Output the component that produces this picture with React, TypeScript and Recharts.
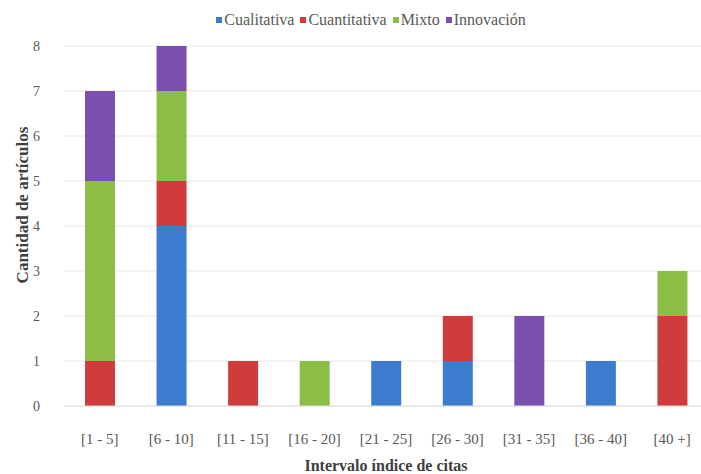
import { Bar, BarChart, CartesianGrid, Legend, XAxis, YAxis } from "recharts";

const intervals = ["[1 - 5]", "[6 - 10]", "[11 - 15]", "[16 - 20]", "[21 - 25]", "[26 - 30]", "[31 - 35]", "[36 - 40]", "[40 +]"];
const cualitativa = [0, 4, 0, 0, 1, 1, 0, 1, 0];
const cuantitativa = [1, 1, 1, 0, 0, 1, 0, 0, 2];
const mixto = [4, 2, 0, 1, 0, 0, 0, 0, 1];
const innovacion = [2, 1, 0, 0, 0, 0, 2, 0, 0];
const yTicks = [0, 1, 2, 3, 4, 5, 6, 7, 8];

const series = [
  { key: "cualitativa", name: "Cualitativa", color: "#3d7bcf" },
  { key: "cuantitativa", name: "Cuantitativa", color: "#d03b3e" },
  { key: "mixto", name: "Mixto", color: "#8cbd47" },
  { key: "innovacion", name: "Innovación", color: "#7a4fb0" },
];

const data = intervals.map((name, i) => ({
  name,
  cualitativa: cualitativa[i],
  cuantitativa: cuantitativa[i],
  mixto: mixto[i],
  innovacion: innovacion[i],
}));

const font = "'Liberation Serif', 'Times New Roman', serif";
const grey = "#595959";

function LegendRow() {
  return (
    <div style={{ display: "flex", justifyContent: "center", fontFamily: font, fontSize: 16, lineHeight: "18px", color: grey }}>
      {series.map((s) => (
        <span key={s.key} style={{ display: "flex", alignItems: "center", marginRight: 6, fontFamily: font }}>
          <span style={{ width: 6, height: 6, background: s.color, display: "inline-block", marginRight: 2 }} />
          {s.name}
        </span>
      ))}
    </div>
  );
}

function YLabel(props: any) {
  const { viewBox } = props;
  const x = viewBox.x + 22;
  const y = viewBox.y + viewBox.height / 2 - 21;
  return (
    <text x={x} y={y} transform={`rotate(-90, ${x}, ${y})`} textAnchor="middle" dominantBaseline="central"
      fontFamily={font} fontSize={17} fontWeight="bold" fill="#404040">
      Cantidad de artículos
    </text>
  );
}

export default function App() {
  return (
    <div style={{ position: "fixed", top: 0, left: 0, width: 701, height: 474, overflow: "hidden", background: "#fff" }}>
      <BarChart width={712} height={474} data={data} margin={{ top: 28, right: 4, left: 0, bottom: 0 }}>
        <CartesianGrid vertical={false} stroke="#e8e8e8" />
        <XAxis dataKey="name" height={68} tickLine={false} axisLine={{ stroke: "#e0e0e0" }} tickMargin={21}
          tick={{ fontFamily: font, fontSize: 15, fill: grey }} interval={0}
          label={{ value: "Intervalo índice de citas", position: "insideBottom", offset: 3, fontFamily: font, fontSize: 16, fontWeight: "bold", fill: "#404040" }} />
        <YAxis width={64} domain={[0, 8]} ticks={yTicks} tickLine={false} axisLine={false} tickMargin={18}
          tick={{ fontFamily: font, fontSize: 14, fill: grey }} label={<YLabel />} />
        <Legend verticalAlign="top" content={<LegendRow />}
          wrapperStyle={{ top: 11, left: 0, width: 748, fontFamily: font }} />
        {series.map((s) => (
          <Bar key={s.key} dataKey={s.key} name={s.name} stackId="a" fill={s.color} barSize={30} isAnimationActive={false} />
        ))}
      </BarChart>
    </div>
  );
}
